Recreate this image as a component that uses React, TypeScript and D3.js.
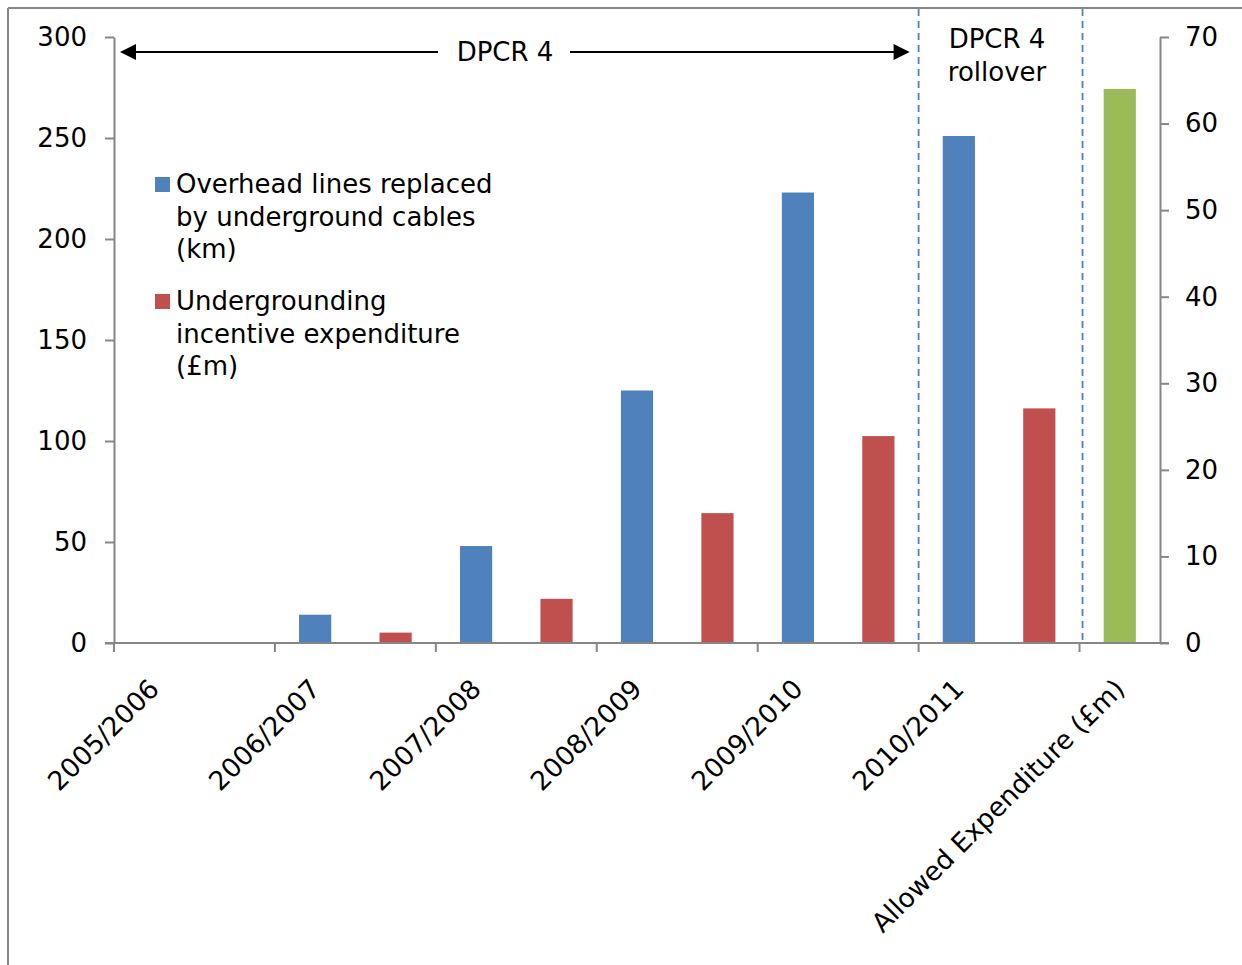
import { useEffect, useRef } from "react";
import * as d3 from "d3";

// periods shown on the axis; each period has two slots (km bar, £m bar)
const periods = [
  "2005/2006",
  "2006/2007",
  "2007/2008",
  "2008/2009",
  "2009/2010",
  "2010/2011",
  "Allowed Expenditure (£m)",
];
// overhead lines replaced by underground cables (km), left axis
const cablesKm = [0, 14, 48, 125, 223, 251];
// undergrounding incentive expenditure (£m), right axis
const incentiveGbpM = [0, 1.2, 5.1, 15, 23.9, 27.1];
// allowed expenditure (£m), right axis
const allowedGbpM = [64];

const leftTicks = [0, 50, 100, 150, 200, 250, 300];
const rightTicks = [0, 10, 20, 30, 40, 50, 60, 70];

const BLUE = "#4F81BD";
const RED = "#C0504D";
const GREEN = "#9BBB59";
const AXIS = "#868686";
const FONT = "'DejaVu Sans', Verdana, sans-serif";

export default function App() {
  const svgRef = useRef<SVGSVGElement>(null);

  useEffect(() => {
    const width = 1242,
      height = 965;
    const left = 114,
      right = 1160,
      top = 37,
      bottom = 643;

    const svg = d3.select(svgRef.current).attr("width", width).attr("height", height);
    svg.selectAll("*").remove();

    const nSlots = periods.length * 2 - 1;
    const x = d3
      .scaleBand<number>()
      .domain(d3.range(nSlots))
      .range([left, right])
      .paddingInner(0.6)
      .paddingOuter(0.3);
    const edge = d3.scaleLinear().domain([0, nSlots]).range([left, right]);
    const yL = d3.scaleLinear().domain([0, 300]).range([bottom, top]);
    const yR = d3.scaleLinear().domain([0, 70]).range([bottom, top]);

    // chart frame (only top/left visible)
    svg.append("line").attr("x1", 8).attr("x2", 8).attr("y1", 8).attr("y2", height)
      .attr("stroke", AXIS).attr("stroke-width", 2);
    svg.append("line").attr("x1", 8).attr("x2", width).attr("y1", 8).attr("y2", 8)
      .attr("stroke", AXIS).attr("stroke-width", 2);

    // bars
    svg.append("g").selectAll("rect").data(cablesKm).join("rect")
      .attr("x", (_, i) => x(i * 2)!)
      .attr("y", (d) => yL(d))
      .attr("width", x.bandwidth())
      .attr("height", (d) => bottom - yL(d))
      .attr("fill", BLUE);
    svg.append("g").selectAll("rect").data(incentiveGbpM).join("rect")
      .attr("x", (_, i) => x(i * 2 + 1)!)
      .attr("y", (d) => yR(d))
      .attr("width", x.bandwidth())
      .attr("height", (d) => bottom - yR(d))
      .attr("fill", RED);
    svg.append("g").selectAll("rect").data(allowedGbpM).join("rect")
      .attr("x", x(nSlots - 1)!)
      .attr("y", (d) => yR(d))
      .attr("width", x.bandwidth())
      .attr("height", (d) => bottom - yR(d))
      .attr("fill", GREEN);

    // left axis
    const gl = svg.append("g").attr("transform", `translate(${left},0)`)
      .call(d3.axisLeft(yL).tickValues(leftTicks).tickSize(9).tickSizeOuter(0).tickPadding(18));
    // right axis
    const gr = svg.append("g").attr("transform", `translate(${right},0)`)
      .call(d3.axisRight(yR).tickValues(rightTicks).tickSize(9).tickSizeOuter(0).tickPadding(16));
    [gl, gr].forEach((g) => {
      g.select(".domain").attr("stroke", AXIS).attr("stroke-width", 2);
      g.selectAll(".tick line").attr("stroke", AXIS).attr("stroke-width", 2);
      g.selectAll(".tick text").attr("fill", "#000").style("font-family", FONT).style("font-size", "26px");
    });

    // x axis
    svg.append("line").attr("x1", left - 9).attr("x2", right + 9).attr("y1", bottom).attr("y2", bottom)
      .attr("stroke", AXIS).attr("stroke-width", 2);
    svg.append("g").selectAll("line").data(periods).join("line")
      .attr("x1", (_, i) => edge(i * 2)).attr("x2", (_, i) => edge(i * 2))
      .attr("y1", bottom).attr("y2", bottom + 9)
      .attr("stroke", AXIS).attr("stroke-width", 2);
    svg.append("g").selectAll("text").data(periods).join("text")
      .attr("transform", (_, i) => `translate(${x(i * 2)! + x.bandwidth() / 2 - 7},677) rotate(-45)`)
      .attr("text-anchor", "end")
      .attr("dy", "0.72em")
      .style("font-family", FONT).style("font-size", "26.5px")
      .text((d) => d);

    // dividers for rollover period
    [edge(10), edge(12) + 3].forEach((xv) => {
      svg.append("line").attr("x1", xv).attr("x2", xv).attr("y1", 9).attr("y2", bottom)
        .attr("stroke", BLUE).attr("stroke-width", 1.8).attr("stroke-dasharray", "7,5");
    });

    // DPCR 4 arrow
    const ay = 52;
    const x0 = left + 6, x1 = edge(10) - 9;
    const arrow = svg.append("g");
    arrow.append("line").attr("x1", x0 + 14).attr("x2", 438).attr("y1", ay).attr("y2", ay)
      .attr("stroke", "#000").attr("stroke-width", 2);
    arrow.append("line").attr("x1", 570).attr("x2", x1 - 14).attr("y1", ay).attr("y2", ay)
      .attr("stroke", "#000").attr("stroke-width", 2);
    arrow.append("path").attr("d", `M${x0},${ay}L${x0 + 16},${ay - 8}L${x0 + 16},${ay + 8}Z`).attr("fill", "#000");
    arrow.append("path").attr("d", `M${x1},${ay}L${x1 - 16},${ay - 8}L${x1 - 16},${ay + 8}Z`).attr("fill", "#000");
    arrow.append("text").attr("x", 505).attr("y", 61).attr("text-anchor", "middle")
      .style("font-family", FONT).style("font-size", "26px").text("DPCR 4");

    const roll = svg.append("text").attr("text-anchor", "middle")
      .style("font-family", FONT).style("font-size", "26px");
    roll.append("tspan").attr("x", 997).attr("y", 48).text("DPCR 4");
    roll.append("tspan").attr("x", 997).attr("y", 81).text("rollover");

    // legend
    const legend = [
      { color: BLUE, lines: ["Overhead lines replaced", "by underground cables", "(km)"], y: 193 },
      { color: RED, lines: ["Undergrounding", "incentive expenditure", "(£m)"], y: 310 },
    ];
    legend.forEach((l) => {
      svg.append("rect").attr("x", 155).attr("y", l.y - 16).attr("width", 15).attr("height", 15).attr("fill", l.color);
      const t = svg.append("text").style("font-family", FONT).style("font-size", "26px");
      l.lines.forEach((s, i) => t.append("tspan").attr("x", 176).attr("y", l.y + i * 32.5).text(s));
    });
  }, []);

  return <svg ref={svgRef} style={{ position: "absolute", left: 0, top: 0, display: "block", background: "#fff" }}></svg>;
}
